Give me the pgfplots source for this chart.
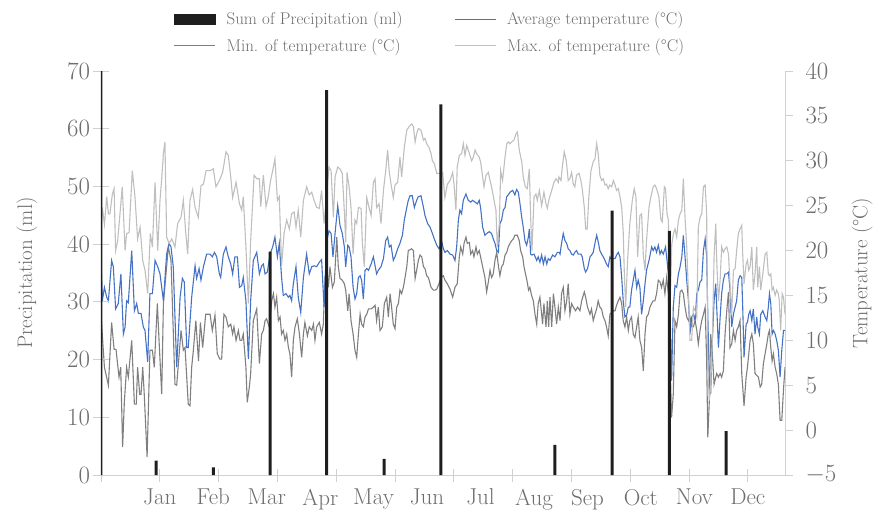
\documentclass[border=0pt]{standalone}
\usepackage{fontspec}
\usepackage{pgfplots}
\pgfplotsset{compat=1.18}
\definecolor{avgblue}{HTML}{4472C4}
\definecolor{mingray}{HTML}{7F7F7F}
\definecolor{maxgray}{HTML}{BFBFBF}
\definecolor{bargray}{HTML}{1E1E1E}
\definecolor{txtgray}{HTML}{6E6E6E}
\definecolor{axgray}{HTML}{D0D0D0}
\begin{document}
\begin{tikzpicture}
\pgfplotsset{
  common/.style={
    scale only axis, width=684pt, height=404pt,
    at={(0pt,0pt)}, anchor=south west,
    xmin=0, xmax=360.6,
    tick label style={font=\fontsize{23}{27}\selectfont, text=txtgray},
    legend cell align=left,
    legend style={draw=none, fill=none, inner sep=0pt, outer sep=0pt,
      font=\fontsize{17}{20}\selectfont, text=txtgray, row sep=8pt,
      /tikz/every odd column/.append style={column sep=9pt}},
    legend image code/.code={\draw[#1] (0pt,0pt) -- (41pt,0pt);},
  }
}
% ---------------- temperature axis (right) ----------------
\begin{axis}[common,
  ymin=-5, ymax=40, ytick={-5,0,...,40},
  axis y line*=right, axis x line=none,
  y axis line style={draw=axgray, line width=0.8pt},
  ytick style={draw=axgray, line width=0.8pt},
  tick align=outside, major tick length=8pt,
  yticklabel style={xshift=9pt},
  ylabel={Temperature (°C)},
  every axis y label/.style={at={(axis description cs:1.1126,0.5)}, rotate=90, anchor=center,
    font=\fontsize{21}{25}\selectfont, text=txtgray},
  legend style={at={(axis description cs:0.516,1.0953)}, anchor=west},
]
\addplot[color=mingray, line width=1.1pt, forget plot] table[row sep=\\] {
x y\\
0 12.9\\ 1.8 7.0\\ 3.9 5.0\\ 5.6 12.0\\ 6.9 9.0\\ 7.9 9.0\\ 9.5 5.9\\ 10.4 7.0\\ 11.4 -1.9\\ 12.3 3.1\\
13.5 7.0\\ 14.4 5.9\\ 16.2 10.0\\ 17.6 2.9\\ 18.6 2.9\\ 19.3 7.0\\ 20.4 4.0\\ 21.1 4.0\\ 22.0 7.0\\ 22.8 4.0\\
24.3 -3.0\\ 25.8 8.9\\ 27.1 8.9\\ 28.1 7.0\\ 29.7 14.1\\ 30.6 10.0\\ 32.0 4.0\\ 32.9 14.1\\ 35.5 20.4\\ 36.9 18.9\\
39.0 5.1\\ 39.9 5.0\\ 42.2 11.1\\ 43.4 8.9\\ 44.3 9.2\\ 46.0 2.9\\ 46.9 2.7\\ 47.8 7.0\\ 48.7 8.9\\ 50.0 12.2\\
51.4 7.7\\ 52.4 12.0\\ 53.6 9.2\\ 55.2 12.9\\ 57.5 12.9\\ 58.7 11.1\\ 60.1 12.8\\ 61.3 8.5\\ 62.7 7.9\\ 63.6 7.9\\
64.8 12.9\\ 65.9 12.6\\ 67.1 11.5\\ 68.4 11.8\\ 69.4 10.7\\ 70.1 11.5\\ 71.2 10.0\\ 72.4 11.1\\ 73.3 10.0\\ 74.2 10.0\\
75.0 10.7\\ 76.4 7.0\\ 77.1 3.1\\ 78.2 4.8\\ 78.9 6.3\\ 80.3 12.2\\ 82.1 13.5\\ 83.5 7.4\\ 84.7 10.7\\ 85.6 11.1\\
86.5 12.2\\ 87.3 12.4\\ 88.7 11.5\\ 90.0 14.4\\ 90.9 15.2\\ 91.7 13.7\\ 92.6 14.8\\ 93.5 12.2\\ 94.4 12.6\\ 95.2 10.7\\
96.1 11.1\\ 97.0 10.0\\ 97.9 10.7\\ 98.8 9.2\\ 99.6 8.5\\ 100.5 5.9\\ 101.4 10.0\\ 102.3 11.5\\ 103.5 12.4\\ 104.6 10.7\\
105.8 8.1\\ 106.7 10.7\\ 107.5 12.0\\ 108.8 10.5\\ 109.8 11.5\\ 111.1 11.1\\ 112.0 11.8\\ 112.8 10.0\\ 113.7 11.5\\ 115.1 12.0\\
116.3 10.7\\ 117.2 11.8\\ 118.1 17.0\\ 119.0 18.2\\ 119.9 15.9\\ 120.7 18.2\\ 122.0 15.9\\ 123.0 16.5\\ 124.3 21.5\\ 125.1 18.2\\
126.0 16.9\\ 127.2 16.7\\ 128.3 16.3\\ 129.0 15.6\\ 130.1 13.3\\ 130.8 15.2\\ 131.8 12.2\\ 132.9 10.7\\ 133.9 8.9\\ 134.8 8.1\\
135.7 10.7\\ 136.6 12.9\\ 137.4 11.8\\ 138.3 11.5\\ 139.2 12.6\\ 140.1 12.9\\ 141.0 13.5\\ 142.4 13.5\\ 143.6 13.7\\ 144.5 13.9\\
145.3 12.2\\ 146.2 13.7\\ 147.1 11.1\\ 148.3 11.5\\ 149.4 14.1\\ 150.6 14.8\\ 151.5 12.6\\ 152.4 15.2\\ 153.2 13.7\\ 154.1 11.8\\
155.0 11.3\\ 155.9 13.7\\ 156.8 14.1\\ 157.6 15.6\\ 158.5 15.2\\ 159.4 15.9\\ 160.3 17.0\\ 161.2 18.2\\ 162.0 20.0\\ 162.9 20.1\\
163.8 20.2\\ 164.7 20.0\\ 165.6 16.9\\ 166.4 17.8\\ 167.3 18.9\\ 168.2 19.5\\ 169.1 19.3\\ 170.0 18.2\\ 170.8 18.0\\ 171.7 17.2\\
172.6 17.0\\ 174.0 15.9\\ 175.2 15.6\\ 176.1 15.6\\ 177.0 15.7\\ 178.2 16.3\\ 179.3 17.0\\ 180.5 17.2\\ 181.3 16.7\\ 182.6 16.3\\
184.0 15.7\\ 185.4 14.8\\ 186.6 15.9\\ 187.8 16.3\\ 188.9 19.3\\ 189.6 20.4\\ 190.7 19.6\\ 191.4 20.8\\ 192.4 21.5\\ 193.1 20.8\\
194.2 20.9\\ 194.9 19.6\\ 195.9 20.0\\ 196.6 19.3\\ 197.7 20.4\\ 198.4 19.6\\ 199.4 20.0\\ 200.1 19.3\\ 201.2 18.2\\ 202.4 17.0\\
203.3 15.4\\ 204.2 16.5\\ 205.1 17.8\\ 205.9 17.0\\ 206.8 17.4\\ 207.7 18.9\\ 208.6 19.8\\ 209.5 18.3\\ 210.3 17.2\\ 211.2 18.2\\
212.1 18.5\\ 213.0 19.5\\ 213.9 19.8\\ 214.7 20.4\\ 215.6 20.8\\ 216.5 21.1\\ 217.4 21.3\\ 218.2 21.7\\ 219.5 21.7\\ 220.5 21.1\\
221.2 20.0\\ 222.3 19.3\\ 223.0 18.2\\ 224.0 17.2\\ 224.7 16.5\\ 225.4 15.6\\ 226.1 15.9\\ 227.0 15.0\\ 227.9 14.4\\ 228.8 12.9\\
229.7 11.8\\ 230.5 14.1\\ 231.4 14.8\\ 232.3 12.9\\ 232.8 11.8\\ 233.5 14.1\\ 234.6 11.5\\ 235.3 14.4\\ 236.0 11.5\\ 236.7 14.8\\
237.6 11.5\\ 238.5 15.2\\ 239.3 13.7\\ 240.2 11.8\\ 241.1 13.7\\ 242.0 12.2\\ 242.8 15.2\\ 243.7 15.9\\ 244.6 13.3\\ 245.5 14.4\\
246.3 16.3\\ 247.2 12.9\\ 248.1 14.1\\ 249.0 13.7\\ 250.2 13.3\\ 251.3 13.7\\ 252.5 13.3\\ 253.4 14.4\\ 254.8 15.4\\ 255.5 14.8\\
256.5 13.7\\ 257.8 12.9\\ 258.6 13.5\\ 259.5 12.2\\ 260.4 12.9\\ 261.3 13.5\\ 262.1 14.4\\ 263.0 13.7\\ 263.9 13.5\\ 264.8 12.6\\
265.7 12.2\\ 266.5 11.5\\ 267.4 10.5\\ 268.3 12.9\\ 269.2 13.1\\ 270.1 13.3\\ 271.0 13.3\\ 271.8 13.9\\ 272.7 14.4\\ 273.6 14.8\\
274.5 14.1\\ 275.3 12.2\\ 276.2 11.5\\ 277.1 12.6\\ 278.0 11.1\\ 278.8 12.2\\ 279.7 12.6\\ 280.6 10.7\\ 281.5 10.3\\ 282.4 11.5\\
283.2 12.6\\ 284.1 10.0\\ 285.0 9.2\\ 285.9 6.6\\ 286.8 10.7\\ 287.6 12.6\\ 288.5 12.9\\ 289.4 13.7\\ 290.3 14.1\\ 291.1 14.4\\
292.0 14.4\\ 292.9 15.2\\ 293.8 16.7\\ 294.7 16.5\\ 295.5 15.9\\ 296.4 16.7\\ 297.3 15.2\\ 298.2 17.0\\ 299.1 15.2\\ 299.9 8.5\\
300.8 1.4\\ 301.7 4.0\\ 302.6 12.2\\ 303.5 11.5\\ 304.4 12.9\\ 305.3 15.4\\ 306.2 15.6\\ 307.0 15.2\\ 307.9 13.7\\ 308.8 12.6\\
309.7 12.2\\ 310.5 12.6\\ 311.4 11.5\\ 312.3 11.5\\ 313.2 12.2\\ 314.1 11.1\\ 314.9 9.6\\ 315.8 11.1\\ 316.7 12.2\\ 317.6 12.9\\
318.5 13.7\\ 319.3 7.7\\ 319.9 -0.8\\ 320.7 3.3\\ 321.4 10.7\\ 322.3 8.5\\ 323.2 5.1\\ 324.1 5.9\\ 324.6 6.3\\ 325.5 5.9\\
326.4 6.3\\ 327.2 5.9\\ 328.1 6.6\\ 329.0 10.7\\ 329.9 13.3\\ 330.8 15.4\\ 331.6 9.2\\ 332.5 9.6\\ 333.4 11.1\\ 334.3 10.0\\
335.1 11.1\\ 336.0 11.5\\ 336.9 12.2\\ 337.8 6.3\\ 339.0 2.7\\ 340.1 5.9\\ 340.8 7.0\\ 341.5 8.5\\ 342.2 10.0\\ 343.1 10.7\\
343.9 9.6\\ 344.8 6.3\\ 345.7 6.1\\ 346.6 5.9\\ 347.5 4.8\\ 348.3 5.1\\ 349.2 7.4\\ 350.1 8.5\\ 351.0 9.6\\ 351.8 10.7\\
352.4 11.1\\ 353.1 9.2\\ 353.8 7.7\\ 354.5 8.5\\ 355.4 7.0\\ 356.2 6.3\\ 357.1 5.1\\ 358.0 1.1\\ 358.9 1.1\\ 359.8 4.5\\
360.6 7.0\\
};
\addplot[color=avgblue, line width=1.1pt] table[row sep=\\] {
x y\\
0 18.9\\ 0.7 14.4\\ 1.8 15.9\\ 3.0 14.8\\ 3.9 14.4\\ 5.6 18.9\\ 6.5 18.2\\ 7.7 13.5\\ 9.1 14.1\\ 10.5 17.4\\
11.8 10.7\\ 12.7 11.5\\ 13.5 14.4\\ 14.4 14.2\\ 16.2 20.0\\ 17.6 13.3\\ 18.8 14.1\\ 19.7 13.0\\ 21.1 13.0\\ 22.3 11.5\\
23.2 11.1\\ 24.6 7.6\\ 25.8 15.2\\ 27.1 15.2\\ 28.5 18.9\\ 29.9 18.2\\ 31.1 17.4\\ 32.9 14.4\\ 34.6 19.6\\ 35.9 20.8\\
36.9 20.4\\ 38.1 18.2\\ 39.9 7.0\\ 41.7 14.8\\ 42.9 16.9\\ 43.9 16.5\\ 45.2 9.2\\ 46.0 9.2\\ 47.8 14.8\\ 49.6 18.3\\
50.4 16.9\\ 51.7 18.0\\ 52.7 16.7\\ 54.0 18.2\\ 55.7 19.6\\ 57.5 19.6\\ 58.7 19.3\\ 59.8 19.8\\ 61.0 19.3\\ 62.4 17.4\\
63.1 17.0\\ 64.5 19.6\\ 65.9 20.4\\ 67.1 19.3\\ 68.4 18.5\\ 69.4 17.4\\ 70.6 19.3\\ 71.9 19.3\\ 73.0 15.9\\ 74.2 16.1\\
75.0 17.0\\ 76.4 14.4\\ 77.7 7.9\\ 78.9 14.4\\ 80.3 18.9\\ 82.1 19.8\\ 83.5 17.4\\ 84.7 18.3\\ 85.6 18.5\\ 86.5 17.4\\
87.7 17.6\\ 89.1 19.6\\ 90.5 20.4\\ 91.7 21.5\\ 93.0 19.3\\ 94.0 20.8\\ 95.2 17.0\\ 96.1 15.0\\ 97.5 15.2\\ 98.8 14.8\\
99.6 15.0\\ 100.5 14.4\\ 101.4 16.3\\ 102.8 18.2\\ 104.0 14.8\\ 105.3 13.1\\ 106.7 17.0\\ 108.4 19.6\\ 109.8 17.4\\ 111.1 18.2\\
112.3 18.3\\ 113.7 18.2\\ 115.1 18.7\\ 116.3 19.0\\ 117.6 13.7\\ 119.0 21.1\\ 120.2 22.2\\ 121.3 21.9\\ 122.3 19.3\\ 123.4 21.9\\
124.8 25.0\\ 126.0 22.8\\ 127.2 21.9\\ 128.3 20.4\\ 129.0 18.2\\ 130.1 20.6\\ 130.8 20.4\\ 131.8 19.3\\ 132.9 15.9\\ 133.9 14.6\\
134.8 15.2\\ 135.7 17.0\\ 136.6 17.2\\ 137.4 16.7\\ 138.3 14.6\\ 139.2 17.8\\ 140.1 18.0\\ 141.0 17.8\\ 142.4 18.5\\ 143.6 19.3\\
144.5 18.3\\ 145.3 17.4\\ 146.2 17.8\\ 147.6 18.2\\ 148.9 19.1\\ 150.1 21.1\\ 151.1 21.5\\ 152.0 20.4\\ 152.9 20.6\\ 154.1 18.9\\
155.0 19.3\\ 156.4 20.2\\ 157.6 20.8\\ 158.9 21.7\\ 159.9 23.4\\ 161.2 24.8\\ 162.0 25.6\\ 162.9 26.1\\ 164.1 26.1\\ 165.2 24.8\\
166.4 25.6\\ 167.3 26.0\\ 168.7 26.1\\ 170.0 24.8\\ 170.8 23.9\\ 172.2 23.0\\ 173.5 22.6\\ 174.7 21.9\\ 175.7 21.3\\ 177.0 20.6\\
178.2 20.2\\ 179.6 21.0\\ 180.5 20.2\\ 181.3 19.8\\ 182.6 20.0\\ 184.0 19.6\\ 185.4 19.5\\ 186.6 18.9\\ 187.5 20.4\\ 188.4 23.4\\
189.2 24.5\\ 190.1 24.1\\ 191.0 25.6\\ 192.4 26.3\\ 193.6 25.6\\ 194.9 25.4\\ 195.9 25.6\\ 197.2 25.4\\ 198.4 25.2\\ 199.4 25.6\\
200.1 24.8\\ 201.2 22.6\\ 202.4 21.7\\ 203.3 21.9\\ 204.7 22.1\\ 205.9 21.9\\ 206.8 21.3\\ 207.7 20.8\\ 208.6 20.0\\ 209.5 19.8\\
210.3 23.0\\ 211.2 23.4\\ 212.1 24.5\\ 213.0 24.8\\ 213.9 26.0\\ 214.7 26.2\\ 215.6 26.5\\ 217.0 26.7\\ 218.2 26.2\\ 219.1 26.8\\
220.0 26.5\\ 220.9 25.2\\ 221.8 23.7\\ 222.6 22.6\\ 223.5 21.1\\ 224.4 20.6\\ 225.3 21.5\\ 225.8 22.4\\ 226.5 19.6\\ 227.2 19.5\\
228.3 19.6\\ 229.7 18.9\\ 230.5 19.3\\ 231.4 18.7\\ 232.3 19.5\\ 233.2 18.5\\ 234.1 19.3\\ 235.0 18.5\\ 235.8 19.1\\ 236.7 18.9\\
238.1 19.5\\ 239.3 19.3\\ 240.6 19.8\\ 241.6 19.8\\ 242.0 19.6\\ 242.8 20.8\\ 243.7 21.9\\ 244.6 21.1\\ 245.5 20.8\\ 246.3 20.2\\
247.2 20.0\\ 248.1 19.6\\ 249.0 19.5\\ 249.8 19.8\\ 250.7 20.0\\ 251.6 19.6\\ 253.0 19.6\\ 253.7 19.3\\ 254.8 18.0\\ 255.5 17.6\\
256.5 18.0\\ 257.8 19.3\\ 258.6 19.5\\ 259.5 19.8\\ 260.4 20.8\\ 261.3 21.7\\ 262.1 21.0\\ 263.0 20.0\\ 263.9 19.6\\ 264.8 19.3\\
265.7 18.9\\ 266.5 18.5\\ 267.4 18.2\\ 268.3 19.3\\ 269.2 19.0\\ 270.1 19.1\\ 271.0 19.1\\ 271.8 19.5\\ 272.7 19.8\\ 273.6 19.3\\
274.5 17.0\\ 275.3 14.4\\ 276.2 12.6\\ 277.1 12.8\\ 278.0 13.7\\ 278.8 13.7\\ 279.7 15.6\\ 280.6 16.7\\ 281.5 17.8\\ 282.4 15.9\\
283.2 16.7\\ 284.1 15.9\\ 285.0 12.9\\ 285.9 14.4\\ 286.8 16.3\\ 287.6 17.8\\ 288.9 18.9\\ 290.3 20.4\\ 291.1 20.0\\ 292.0 20.4\\
292.9 19.8\\ 293.8 20.6\\ 294.7 19.6\\ 295.5 20.0\\ 296.4 19.6\\ 297.6 20.4\\ 298.4 18.9\\ 299.1 17.4\\ 299.9 14.4\\ 300.8 5.5\\
301.7 13.7\\ 302.6 16.1\\ 303.5 15.9\\ 304.4 17.4\\ 305.3 18.2\\ 306.2 19.3\\ 307.0 21.7\\ 307.9 19.3\\ 308.8 16.7\\ 309.7 14.4\\
310.5 10.7\\ 311.4 12.6\\ 312.3 12.9\\ 313.2 12.2\\ 314.1 15.2\\ 314.9 15.6\\ 315.8 16.5\\ 316.7 16.7\\ 317.6 20.0\\ 318.5 21.3\\
319.3 19.3\\ 319.9 12.9\\ 320.7 5.1\\ 321.4 4.0\\ 322.3 10.0\\ 323.2 14.4\\ 324.1 16.3\\ 324.6 13.7\\ 325.5 9.2\\ 326.4 12.6\\
327.2 15.2\\ 328.1 16.7\\ 329.0 17.4\\ 329.9 17.4\\ 330.8 17.6\\ 331.6 15.6\\ 332.5 11.5\\ 333.4 12.9\\ 334.3 13.7\\ 335.1 14.4\\
336.0 16.7\\ 336.9 17.2\\ 337.8 17.0\\ 338.3 13.7\\ 339.0 8.1\\ 340.1 11.8\\ 340.8 12.0\\ 341.5 12.9\\ 342.2 13.3\\ 343.1 12.2\\
343.9 13.5\\ 344.8 10.7\\ 345.7 12.6\\ 346.2 11.5\\ 347.1 10.7\\ 347.8 12.9\\ 348.9 13.3\\ 350.1 12.6\\ 351.0 12.2\\ 351.8 13.7\\
352.4 15.2\\ 353.1 14.1\\ 353.8 10.7\\ 354.5 11.1\\ 355.4 10.7\\ 356.2 10.0\\ 357.1 8.9\\ 358.0 5.9\\ 358.9 8.9\\ 359.8 11.1\\
360.6 11.1\\
};
\addlegendentry{Average temperature (°C)}
\addplot[color=maxgray, line width=1.1pt] table[row sep=\\] {
x y\\
0 22.2\\ 0.7 24.8\\ 1.8 22.9\\ 3.0 26.0\\ 3.9 24.1\\ 4.7 24.1\\ 6.0 26.3\\ 6.9 26.9\\ 7.7 20.0\\ 8.8 21.1\\
10.0 24.1\\ 11.2 27.1\\ 12.7 20.0\\ 13.5 21.9\\ 14.8 22.0\\ 16.5 28.9\\ 17.9 26.0\\ 19.3 21.3\\ 20.6 22.6\\ 22.0 18.9\\
23.2 17.8\\ 24.6 15.2\\ 26.0 21.9\\ 27.1 20.4\\ 28.5 27.6\\ 29.9 20.0\\ 31.1 25.6\\ 32.0 28.0\\ 32.9 30.8\\ 33.7 32.1\\
34.6 21.5\\ 35.9 20.8\\ 37.3 21.3\\ 39.0 20.4\\ 40.4 23.0\\ 42.2 23.7\\ 43.4 25.6\\ 44.6 22.2\\ 45.7 19.6\\ 46.9 25.6\\
48.3 26.8\\ 49.6 24.8\\ 51.3 23.7\\ 52.7 27.2\\ 54.0 27.4\\ 55.4 28.9\\ 57.5 28.9\\ 59.2 29.1\\ 60.6 27.1\\ 62.4 27.8\\
64.1 28.7\\ 65.9 31.0\\ 67.1 30.6\\ 68.4 28.2\\ 69.4 25.9\\ 71.2 27.6\\ 73.0 25.2\\ 74.2 24.5\\ 75.0 26.0\\ 76.4 20.4\\
77.7 14.1\\ 78.9 21.1\\ 80.7 28.4\\ 82.1 28.0\\ 83.5 28.0\\ 84.2 24.9\\ 85.6 28.4\\ 87.0 24.9\\ 88.2 26.0\\ 89.4 27.8\\
90.5 28.9\\ 91.7 30.2\\ 93.0 25.6\\ 94.0 26.0\\ 95.2 18.3\\ 96.5 21.9\\ 97.9 23.4\\ 99.3 22.4\\ 100.5 24.1\\ 101.8 24.3\\
102.8 22.6\\ 104.0 24.5\\ 105.3 21.5\\ 106.7 25.6\\ 108.4 27.1\\ 109.8 26.2\\ 111.1 26.5\\ 112.3 25.6\\ 113.7 24.8\\ 115.1 24.7\\
116.3 26.7\\ 117.6 23.0\\ 120.2 29.3\\ 121.3 28.9\\ 122.5 23.7\\ 123.4 28.2\\ 124.8 29.3\\ 126.0 29.1\\ 127.2 28.6\\ 128.3 24.3\\
129.0 20.9\\ 129.7 28.7\\ 130.8 27.1\\ 131.8 24.8\\ 132.9 19.6\\ 133.9 23.4\\ 134.8 23.0\\ 135.7 24.8\\ 137.1 24.7\\ 137.8 20.8\\
138.8 18.2\\ 140.1 25.9\\ 141.3 24.8\\ 142.4 23.9\\ 143.6 27.6\\ 144.5 28.0\\ 145.3 24.8\\ 146.6 25.2\\ 147.6 23.0\\ 148.9 26.7\\
150.1 28.9\\ 151.1 31.2\\ 152.0 28.7\\ 152.9 27.4\\ 154.1 25.9\\ 155.0 27.3\\ 156.4 27.6\\ 157.6 30.4\\ 158.5 28.2\\ 159.9 31.5\\
161.2 33.4\\ 162.4 33.8\\ 163.8 34.1\\ 164.7 33.8\\ 165.6 32.1\\ 166.4 33.0\\ 167.3 33.6\\ 168.7 33.4\\ 170.0 32.3\\ 170.8 32.5\\
171.7 31.9\\ 172.9 31.5\\ 174.0 30.8\\ 174.7 30.0\\ 175.7 29.7\\ 177.0 28.6\\ 178.2 28.6\\ 180.1 28.7\\ 181.3 25.9\\ 182.6 27.4\\
184.0 27.8\\ 185.4 28.7\\ 186.1 27.4\\ 187.1 24.5\\ 187.8 29.3\\ 188.9 30.6\\ 190.1 30.8\\ 191.0 31.9\\ 191.9 30.6\\ 192.8 31.7\\
194.2 30.8\\ 195.4 30.0\\ 196.3 30.4\\ 197.2 31.2\\ 198.0 30.8\\ 199.4 30.4\\ 200.1 29.9\\ 201.2 28.2\\ 201.9 27.1\\ 203.0 28.4\\
204.2 28.7\\ 205.1 27.8\\ 205.9 27.1\\ 207.2 25.6\\ 208.2 24.5\\ 208.9 20.4\\ 210.0 23.0\\ 210.7 28.9\\ 211.7 27.8\\ 213.0 30.4\\
213.9 31.9\\ 214.7 32.1\\ 215.6 31.9\\ 216.5 32.1\\ 217.7 32.3\\ 218.8 33.0\\ 219.5 33.2\\ 220.5 31.2\\ 221.8 29.9\\ 222.6 28.2\\
223.7 27.1\\ 224.7 26.9\\ 225.8 29.1\\ 226.5 23.7\\ 227.2 20.0\\ 228.3 26.0\\ 229.3 26.3\\ 230.0 25.6\\ 231.1 26.7\\ 232.3 25.0\\
233.5 26.5\\ 234.6 25.2\\ 235.3 24.7\\ 236.3 25.8\\ 237.6 26.7\\ 238.8 27.6\\ 239.9 28.0\\ 241.1 27.6\\ 241.4 28.2\\ 242.5 27.8\\
243.2 29.3\\ 244.2 31.0\\ 245.3 30.0\\ 246.3 27.8\\ 247.2 28.0\\ 248.1 28.7\\ 249.0 27.4\\ 249.8 27.1\\ 250.7 28.4\\ 252.0 28.6\\
253.0 27.8\\ 253.7 26.9\\ 254.8 24.8\\ 255.5 22.4\\ 256.3 22.4\\ 257.2 26.0\\ 258.3 28.9\\ 259.5 29.9\\ 260.4 30.2\\ 261.3 31.9\\
262.1 30.8\\ 263.0 28.4\\ 263.9 27.8\\ 264.8 28.0\\ 265.7 27.3\\ 266.5 27.4\\ 267.4 26.9\\ 268.3 27.3\\ 269.2 27.1\\ 270.1 27.8\\
271.0 27.3\\ 271.8 26.7\\ 272.7 26.9\\ 273.6 26.0\\ 274.5 24.8\\ 275.3 22.1\\ 275.9 17.4\\ 276.6 13.7\\ 277.6 18.9\\ 278.8 23.0\\
280.1 25.6\\ 281.1 26.9\\ 282.0 26.0\\ 282.9 19.3\\ 284.1 23.9\\ 285.0 24.1\\ 285.9 19.5\\ 286.8 17.8\\ 287.6 21.1\\ 288.9 24.8\\
289.9 26.0\\ 291.1 27.1\\ 292.0 27.3\\ 292.9 26.9\\ 294.1 26.0\\ 295.2 23.4\\ 295.9 23.2\\ 297.0 27.1\\ 297.6 26.9\\ 298.4 24.1\\
299.1 23.4\\ 300.0 13.3\\ 300.9 20.7\\ 301.8 21.9\\ 302.6 22.4\\ 303.5 21.5\\ 304.4 23.4\\ 305.3 24.1\\ 306.2 24.5\\ 307.0 28.0\\
307.9 23.7\\ 308.8 20.4\\ 309.7 15.2\\ 310.5 10.0\\ 311.4 10.0\\ 312.3 13.7\\ 313.2 13.3\\ 314.1 12.6\\ 314.9 22.6\\ 315.8 23.7\\
316.7 24.1\\ 317.6 27.1\\ 318.5 27.3\\ 319.3 24.1\\ 319.9 7.0\\ 320.7 3.3\\ 321.4 4.8\\ 322.3 10.0\\ 323.2 19.3\\ 324.1 23.0\\
324.6 18.9\\ 325.5 14.4\\ 326.4 16.7\\ 327.2 20.4\\ 328.1 19.8\\ 329.0 20.2\\ 329.9 20.4\\ 330.8 19.6\\ 331.6 16.3\\ 332.5 12.9\\
333.4 17.8\\ 334.3 18.0\\ 335.1 20.0\\ 336.0 21.9\\ 336.9 22.4\\ 337.8 22.8\\ 338.3 19.6\\ 339.0 16.3\\ 340.1 18.5\\ 340.8 18.9\\
341.5 17.8\\ 342.2 18.2\\ 343.1 20.4\\ 343.9 15.6\\ 344.8 17.4\\ 345.7 20.4\\ 346.2 15.9\\ 347.1 18.2\\ 347.8 15.6\\ 348.9 17.4\\
350.1 19.6\\ 351.0 19.8\\ 351.8 17.4\\ 352.4 17.2\\ 353.1 17.4\\ 353.8 15.6\\ 354.5 15.9\\ 355.4 15.0\\ 356.2 15.6\\ 357.1 15.2\\
357.6 14.4\\ 358.3 11.1\\ 359.1 15.2\\ 359.8 14.8\\ 360.6 12.9\\
};
\addlegendentry{Max. of temperature (°C)}
\end{axis}
% ---------------- precipitation axis (left) ----------------
\begin{axis}[common,
  ymin=0, ymax=70, ytick={0,10,...,70},
  axis y line*=left, axis x line*=bottom,
  axis line style={draw=axgray, line width=0.8pt},
  ytick style={draw=axgray, line width=0.8pt},
  tick align=center, major tick length=15pt, minor tick length=13pt,
  xtick={31,59.2,87.4,115.6,143.7,171.9,200.1,228.3,256.5,284.6,312.8,341},
  xticklabels={Jan,Feb,Mar,Apr,May,Jun,Jul,Aug,Sep,Oct,Nov,Dec},
  xticklabel style={yshift=-3pt},
  major x tick style={draw=none},
  minor xtick={0,31,...,341},
  minor x tick style={draw=axgray, line width=0.8pt},
  ylabel={Precipitation (ml)},
  every axis y label/.style={at={(axis description cs:-0.1082,0.5)}, rotate=90, anchor=center,
    font=\fontsize{21}{25}\selectfont, text=txtgray},
  legend style={at={(axis description cs:0.1053,1.0953)}, anchor=west},
]
\addplot[ybar, bar width=3pt, fill=bargray, draw=none,
  legend image code/.code={\fill[bargray] (0pt,-5.5pt) rectangle (42pt,5.5pt);}]
  coordinates {(0,72) (29,2.5) (59.2,1.3) (89.2,38.7) (119,66.7) (149.3,2.8) (179.2,64.2) (239.3,5.2) (269.5,45.8) (299.6,42.3) (329.5,7.6)};
\addlegendentry{Sum of Precipitation (ml)}
\addlegendimage{color=mingray, line width=1.1pt}
\addlegendentry{Min. of temperature (°C)}
\end{axis}
\pgfresetboundingbox
\useasboundingbox (-101pt,-36pt) rectangle (773pt,475pt);
\end{tikzpicture}
\end{document}
